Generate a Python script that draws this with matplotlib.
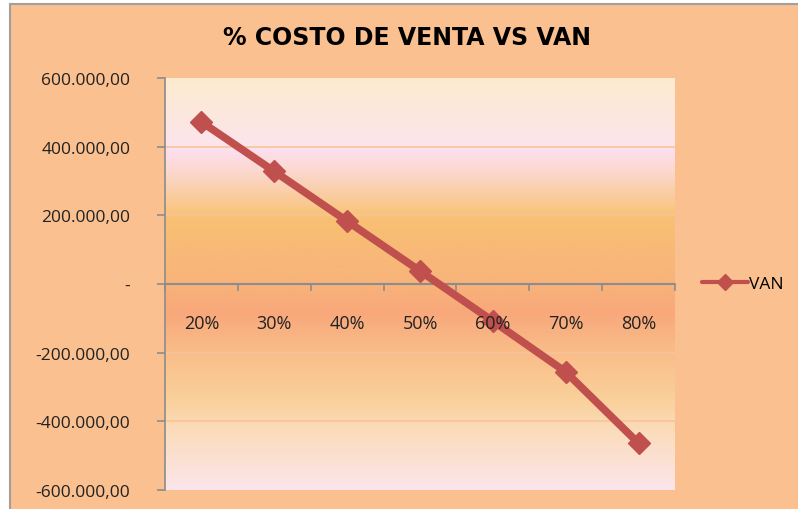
import matplotlib
matplotlib.use('Agg')
import matplotlib.pyplot as plt
import numpy as np
from matplotlib.colors import LinearSegmentedColormap
from matplotlib.patches import Rectangle
from matplotlib.ticker import FuncFormatter

# data
categories = ['20%', '30%', '40%', '50%', '60%', '70%', '80%']
van = [472000, 328000, 183000, 38000, -108000, -256000, -464000]
series_name = 'VAN'
title = '% COSTO DE VENTA VS VAN'

bg = '#FAC08F'
line_color = '#C0504D'
label_font = ['Open Sans', 'DejaVu Sans']

fig = plt.figure(figsize=(7.98, 5.10), dpi=100)
fig.patch.set_facecolor('white')
# chart area with its grey border
fig.patches.append(Rectangle((10 / 798, -0.01), 1.0, 1 - 5 / 510 + 0.01,
                             transform=fig.transFigure, facecolor=bg,
                             edgecolor='#A0A0A0', linewidth=1.5, zorder=-10))

ax = fig.add_axes([165 / 798, 1 - 491 / 510, 510 / 798, 412 / 510])
ax.set_zorder(5)
ax.set_facecolor('none')

# vertical gradient fill of the plot area (top -> bottom)
stops = [(0.0, '#FCEBCF'), (0.165, '#FDE4EC'), (0.172, '#FDE0F0'),
         (0.24, '#FBD5C4'), (0.31, '#F9C88A'), (0.34, '#F8C074'),
         (0.49, '#F8B47A'), (0.57, '#F8A87B'), (0.66, '#F9BC88'),
         (0.78, '#FAD09A'), (0.86, '#FBDCBC'), (1.0, '#FCE5EA')]
cmap = LinearSegmentedColormap.from_list('fill', stops)
grad = np.linspace(0, 1, 512).reshape(-1, 1)
ax.imshow(grad, cmap=cmap, aspect='auto', extent=[0, 1, 0, 1],
          transform=ax.transAxes, zorder=0, interpolation='bicubic')

x = np.arange(len(categories))
ax.set_xlim(-0.5, len(categories) - 0.5)
ax.set_ylim(-600000, 600000)
ax.set_yticks(np.arange(-600000, 600001, 200000))

def fmt(v, pos):
    if v == 0:
        return '-'
    s = '{:,.2f}'.format(v)
    return s.replace(',', 'X').replace('.', ',').replace('X', '.')

ax.yaxis.set_major_formatter(FuncFormatter(fmt))
for yv in [-400000, -200000, 200000, 400000]:
    ax.axhline(yv, color='#F9C499', linewidth=1.2, zorder=1)

for s in ['top', 'right', 'bottom']:
    ax.spines[s].set_visible(False)
ax.spines['left'].set_color('#8C8C8C')
ax.spines['left'].set_linewidth(1.2)
ax.tick_params(axis='y', direction='out', length=6, color='#8C8C8C',
               width=1.2, pad=19, labelsize=12.5, labelcolor='#222222')
for lab in ax.get_yticklabels():
    lab.set_family(label_font)

# category axis drawn at zero
ax.axhline(0, color='#8C8C8C', linewidth=1.5, zorder=2)
ax.set_xticks([])
for b in np.arange(-0.5, len(categories), 1.0):
    ax.plot([b, b], [0, -18000], color='#8C8C8C', linewidth=1.2, zorder=2,
            clip_on=False)
for xi, c in zip(x, categories):
    ax.annotate(c, (xi, 0), xytext=(0, -28), textcoords='offset points',
                ha='center', va='center', fontsize=13, family=label_font,
                color='#222222', zorder=6)

ax.plot(x, van, color=line_color, linewidth=5.5, marker='D', markersize=11,
        label=series_name, zorder=4, solid_capstyle='round')

leg = ax.legend(loc='center left', bbox_to_anchor=(1.03, 0.5), frameon=False,
                handlelength=2.6, handletextpad=0.1,
                prop={'family': label_font, 'size': 12.5},
                borderaxespad=0.3)
for h in leg.legend_handles:
    h.set_linewidth(3)
    h.set_markersize(8)

fig.text(407 / 798, 1 - 38 / 510, title, ha='center', va='center',
         fontsize=17, fontweight='bold',
         family=['Liberation Sans Narrow', 'DejaVu Sans'])

fig.savefig('out.png', dpi=100, facecolor=fig.get_facecolor())
